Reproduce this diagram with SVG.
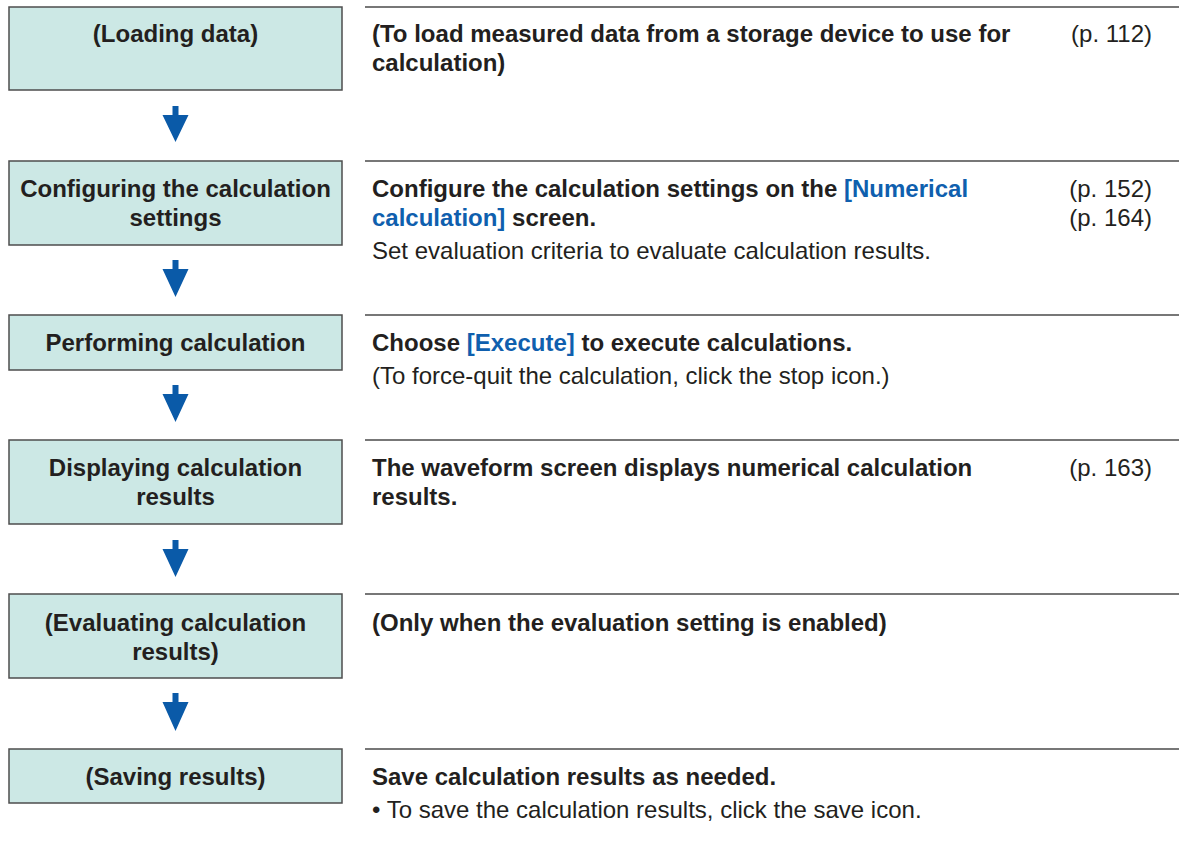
<svg xmlns="http://www.w3.org/2000/svg" width="1179" height="860" viewBox="0 0 1179 860">
<style>
.box{fill:#cce8e5;stroke:#4d4d4d;stroke-width:1.5}
.sep{stroke:#4a4a4a;stroke-width:1.5}
.arr{fill:#0a5aa8}
text{font-family:"Liberation Sans",Arial,sans-serif;font-size:24px;fill:#231f20}
.b{font-weight:bold}
.c{text-anchor:middle}
.r{text-anchor:end}
.lk{fill:#0f5fae}
</style>
<rect width="1179" height="860" fill="#ffffff"/>
<g id="connectors">
<path class="arr" d="M172.5 106h6v9h10l-13 27l-13-27h10z"/>
<path class="arr" d="M172.5 260h6v9h10l-13 28l-13-28h10z"/>
<path class="arr" d="M172.5 385h6v9h10l-13 28l-13-28h10z"/>
<path class="arr" d="M172.5 540h6v9h10l-13 28l-13-28h10z"/>
<path class="arr" d="M172.5 693h6v9h10l-13 29l-13-29h10z"/>
</g>
<g id="separators">
<line class="sep" x1="365" y1="7" x2="1179" y2="7"/>
<line class="sep" x1="365" y1="161" x2="1179" y2="161"/>
<line class="sep" x1="365" y1="315" x2="1179" y2="315"/>
<line class="sep" x1="365" y1="440" x2="1179" y2="440"/>
<line class="sep" x1="365" y1="594" x2="1179" y2="594"/>
<line class="sep" x1="365" y1="749" x2="1179" y2="749"/>
</g>
<g id="node1">
<rect class="box" x="9" y="7" width="333" height="83"/>
<text class="b c" x="175.5" y="42">(Loading data)</text>
</g>
<g id="desc1">
<text class="b" x="372" y="42">(To load measured data from a storage device to use for</text>
<text class="b" x="372" y="71">calculation)</text>
<text class="r" x="1152" y="42">(p. 112)</text>
</g>
<g id="node2">
<rect class="box" x="9" y="161" width="333" height="84"/>
<text class="b c" x="175.5" y="197">Configuring the calculation</text>
<text class="b c" x="175.5" y="226">settings</text>
</g>
<g id="desc2">
<text class="b" x="372" y="197">Configure the calculation settings on the <tspan class="lk">[Numerical</tspan></text>
<text class="b" x="372" y="226"><tspan class="lk">calculation]</tspan> screen.</text>
<text x="372" y="259">Set evaluation criteria to evaluate calculation results.</text>
<text class="r" x="1152" y="197">(p. 152)</text>
<text class="r" x="1152" y="226">(p. 164)</text>
</g>
<g id="node3">
<rect class="box" x="9" y="315" width="333" height="55"/>
<text class="b c" x="175.5" y="351">Performing calculation</text>
</g>
<g id="desc3">
<text class="b" x="372" y="351">Choose <tspan class="lk">[Execute]</tspan> to execute calculations.</text>
<text x="372" y="384">(To force-quit the calculation, click the stop icon.)</text>
</g>
<g id="node4">
<rect class="box" x="9" y="440" width="333" height="84"/>
<text class="b c" x="175.5" y="476">Displaying calculation</text>
<text class="b c" x="175.5" y="505">results</text>
</g>
<g id="desc4">
<text class="b" x="372" y="476">The waveform screen displays numerical calculation</text>
<text class="b" x="372" y="505">results.</text>
<text class="r" x="1152" y="476">(p. 163)</text>
</g>
<g id="node5">
<rect class="box" x="9" y="594" width="333" height="84"/>
<text class="b c" x="175.5" y="631">(Evaluating calculation</text>
<text class="b c" x="175.5" y="660">results)</text>
</g>
<g id="desc5">
<text class="b" x="372" y="631">(Only when the evaluation setting is enabled)</text>
</g>
<g id="node6">
<rect class="box" x="9" y="749" width="333" height="54"/>
<text class="b c" x="175.5" y="785">(Saving results)</text>
</g>
<g id="desc6">
<text class="b" x="372" y="785">Save calculation results as needed.</text>
<text x="372" y="818">• To save the calculation results, click the save icon.</text>
</g>
</svg>
